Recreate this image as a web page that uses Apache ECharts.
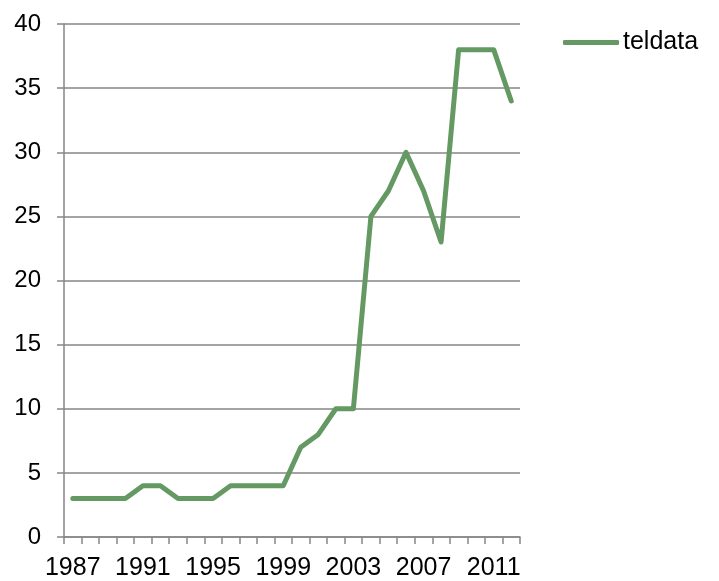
<!DOCTYPE html>
<html><head><meta charset="utf-8">
<script src="https://cdn.jsdelivr.net/npm/echarts@6/dist/echarts.min.js"></script>
<style>html,body{margin:0;padding:0;background:#fff}#c{width:719px;height:581px}</style>
</head><body><div id="c"></div>
<script>
const years = ['1987','1988','1989','1990','1991','1992','1993','1994','1995','1996','1997','1998','1999','2000','2001','2002','2003','2004','2005','2006','2007','2008','2009','2010','2011','2012'];
const teldata = [3,3,3,3,4,4,3,3,3,4,4,4,4,7,8,10,10,25,27,30,27,23,38,38,38,34];
const seriesName = 'teldata';
const yTicks = {min:0, max:40, interval:5};

const chart = echarts.init(document.getElementById('c'), null, {renderer:'canvas'});
const font = '"Liberation Sans", Arial, sans-serif';
chart.setOption({
  animation:false,
  backgroundColor:'#fff',
  grid:{left:64, right:199, top:24, bottom:44, containLabel:false},
  legend:{
    left:563, top:30, padding:0, icon:'roundRect', itemWidth:56, itemHeight:5, itemGap:4,
    data:[seriesName],
    textStyle:{fontFamily:font, fontSize:25, color:'#000', padding:[0,0,0,-1]},
    itemStyle:{color:'#659963'}
  },
  xAxis:{
    type:'category', data:years, boundaryGap:true,
    axisLine:{lineStyle:{color:'#868686', width:1.5}},
    axisTick:{show:true, interval:0, length:7, lineStyle:{color:'#868686', width:1.5}},
    axisLabel:{interval:3, color:'#000', fontFamily:font, fontSize:25, margin:19},
    splitLine:{show:false}
  },
  yAxis:{
    type:'value', min:yTicks.min, max:yTicks.max, interval:yTicks.interval,
    axisLine:{show:true, lineStyle:{color:'#868686', width:1.5}},
    axisTick:{show:true, length:7, lineStyle:{color:'#868686', width:1.5}},
    axisLabel:{color:'#000', fontFamily:font, fontSize:24, margin:23},
    splitLine:{lineStyle:{color:'#868686', width:1.5}}
  },
  series:[{
    name:seriesName, type:'line', data:teldata, symbol:'none',
    lineStyle:{color:'#659963', width:5, cap:'round', join:'round'},
    itemStyle:{color:'#659963'}
  }]
});
</script></body></html>
